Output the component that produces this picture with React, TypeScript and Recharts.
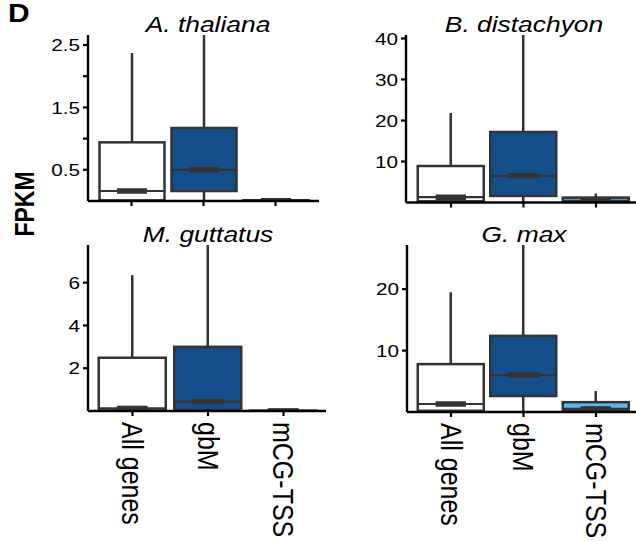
import { Bar, ComposedChart, XAxis, YAxis } from "recharts";

const GROUPS = ["All genes", "gbM", "mCG-TSS"];
const SPECIES = ["A. thaliana", "B. distachyon", "M. guttatus", "G. max"];

// [lower whisker, Q1, median, Q3, upper whisker] per group
const ATH_STATS = [[0, 0.01, 0.16, 0.94, 2.37], [0, 0.16, 0.5, 1.17, 3.4], [0, 0, 0.004, 0.012, 0.02]];
const BDI_STATS = [[0, 0.3, 1.3, 8.9, 21.8], [0, 1.6, 6.5, 17.2, 52], [0, 0.05, 0.4, 1.2, 2.2]];
const MGU_STATS = [[0, 0.02, 0.12, 2.49, 6.35], [0, 0.03, 0.44, 3.0, 9.5], [0, 0, 0.005, 0.012, 0.03]];
const GMA_STATS = [[0, 0.2, 1.3, 7.8, 19.5], [0, 2.6, 6.0, 12.4, 34], [0, 0.2, 0.5, 1.6, 3.4]];

const ATH_TICKS = [0.5, 1, 1.5, 2, 2.5];
const ATH_LABELS = [0.5, 1.5, 2.5];
const BDI_TICKS = [10, 20, 30, 40];
const MGU_TICKS = [2, 4, 6];
const GMA_TICKS = [10, 20];
const Y_MAX = [2.66, 40.85, 7.76, 27.2];

const FILLS = ["#ffffff", "#134e8a", "#5db5f3"];
const INK = "#333333";
const FONT = "'Liberation Sans', Arial, Helvetica, sans-serif";
const W = 636;
const H = 541;
const YW = 60;

const PANELS = [
  { stats: ATH_STATS, ticks: ATH_TICKS, labels: ATH_LABELS, axisX: 88, right: 319, top: 35, bottom: 201, padL: 7.5, padR: 7.5, bar: 65, xh: 10, showX: false },
  { stats: BDI_STATS, ticks: BDI_TICKS, labels: BDI_TICKS, axisX: 406, right: 636, top: 35, bottom: 202.5, padL: 8.75, padR: 3.75, bar: 66, xh: 10, showX: false },
  { stats: MGU_STATS, ticks: MGU_TICKS, labels: MGU_TICKS, axisX: 88, right: 326, top: 245, bottom: 411, padL: 6.75, padR: 4.75, bar: 67, xh: 125, showX: true },
  { stats: GMA_STATS, ticks: GMA_TICKS, labels: GMA_TICKS, axisX: 407, right: 636, top: 245, bottom: 412, padL: 7.75, padR: 3.75, bar: 66, xh: 125, showX: true },
];

const TITLES = [
  { x: 208, y: 31.5 },
  { x: 524, y: 31.5 },
  { x: 208, y: 241.5 },
  { x: 524, y: 241.5 },
];

function BoxShape(props: any) {
  const { x, width, y, height, payload, plotTop } = props;
  const [lo, q1, med, q3, hi] = payload.stats;
  const ppu = height / (q3 - lo);
  const zero = y + height + lo * ppu;
  const py = (v: number) => zero - v * ppu;
  const cx = x + width / 2;
  const top = Math.max(py(hi), plotTop);
  return (
    <g>
      <line x1={cx} x2={cx} y1={top} y2={py(q3)} stroke={INK} strokeWidth={2.5} />
      <line x1={cx} x2={cx} y1={py(q1)} y2={py(lo)} stroke={INK} strokeWidth={2.5} />
      <rect x={x} y={py(q3)} width={width} height={Math.max(py(q1) - py(q3), 0.5)} fill={payload.fill} stroke={INK} strokeWidth={2.5} />
      <line x1={x} x2={x + width} y1={py(med)} y2={py(med)} stroke={INK} strokeWidth={2.2} />
      <line x1={x + width * 0.27} x2={x + width * 0.73} y1={py(med)} y2={py(med)} stroke={INK} strokeWidth={5.5} />
    </g>
  );
}

function YTick(props: any) {
  const { x, y, payload, labels } = props;
  if (!labels.includes(payload.value)) return <g />;
  return (
    <text transform={`translate(${x},${y}) scale(1.22,1)`} textAnchor="end" dy="0.36em" fontSize={17} fill="#000" fontFamily={FONT}>
      {payload.value}
    </text>
  );
}

function XTick(props: any) {
  const { x, y, payload } = props;
  return (
    <text transform={`translate(${x},${y + 2}) scale(1.2,1) rotate(90)`} textAnchor="start" dominantBaseline="central" fontSize={25} fill="#000" fontFamily={FONT}>
      {payload.value}
    </text>
  );
}

function Panel({ cfg, yMax }: { cfg: (typeof PANELS)[number]; yMax: number }) {
  const data = GROUPS.map((name, i) => ({ name, stats: cfg.stats[i], fill: FILLS[i] }));
  const margin = { top: cfg.top, left: cfg.axisX - YW, right: W - cfg.right, bottom: H - cfg.bottom - cfg.xh };
  return (
    <div style={{ position: "absolute", left: 0, top: 0 }}>
      <ComposedChart width={W} height={H} data={data} margin={margin}>
        <XAxis
          dataKey="name"
          type="category"
          interval={0}
          height={cfg.xh}
          padding={{ left: cfg.padL, right: cfg.padR }}
          axisLine={{ stroke: "#000", strokeWidth: 2.4 }}
          tickLine={{ stroke: "#000", strokeWidth: 2.2 }}
          tickSize={5}
          tickMargin={4}
          tick={cfg.showX ? (p: any) => <XTick {...p} /> : () => <g />}
        />
        <YAxis
          type="number"
          width={YW}
          domain={[0, yMax]}
          allowDataOverflow
          ticks={cfg.ticks}
          axisLine={{ stroke: "#000", strokeWidth: 2.4 }}
          tickLine={{ stroke: "#000", strokeWidth: 2.2 }}
          tickSize={5}
          tickMargin={3}
          tick={(p: any) => <YTick {...p} labels={cfg.labels} />}
        />
        <Bar
          dataKey={(d: any) => [d.stats[0], d.stats[3]]}
          barSize={cfg.bar}
          isAnimationActive={false}
          shape={(p: any) => <BoxShape {...p} plotTop={cfg.top} />}
        />
      </ComposedChart>
    </div>
  );
}

export default function App() {
  return (
    <div style={{ position: "relative", width: W, height: H, background: "#fff", overflow: "hidden" }}>
      <style>{"body{margin:0}"}</style>
      {PANELS.map((cfg, i) => (
        <Panel key={i} cfg={cfg} yMax={Y_MAX[i]} />
      ))}
      <svg width={W} height={H} style={{ position: "absolute", left: 0, top: 0, pointerEvents: "none" }}>
        <text transform="translate(8,21.7) scale(1.2,1)" fontSize={25} fontWeight="bold" fontFamily={FONT} fill="#000">
          D
        </text>
        <text transform="translate(33.5,204) scale(1.2,1) rotate(-90)" textAnchor="middle" fontSize={23} fontWeight="bold" fontFamily={FONT} fill="#000">
          FPKM
        </text>
        {SPECIES.map((s, i) => (
          <text key={s} transform={`translate(${TITLES[i].x},${TITLES[i].y}) scale(1.2,1)`} textAnchor="middle" fontSize={22} fontStyle="italic" fontFamily={FONT} fill="#000">
            {s}
          </text>
        ))}
      </svg>
    </div>
  );
}
